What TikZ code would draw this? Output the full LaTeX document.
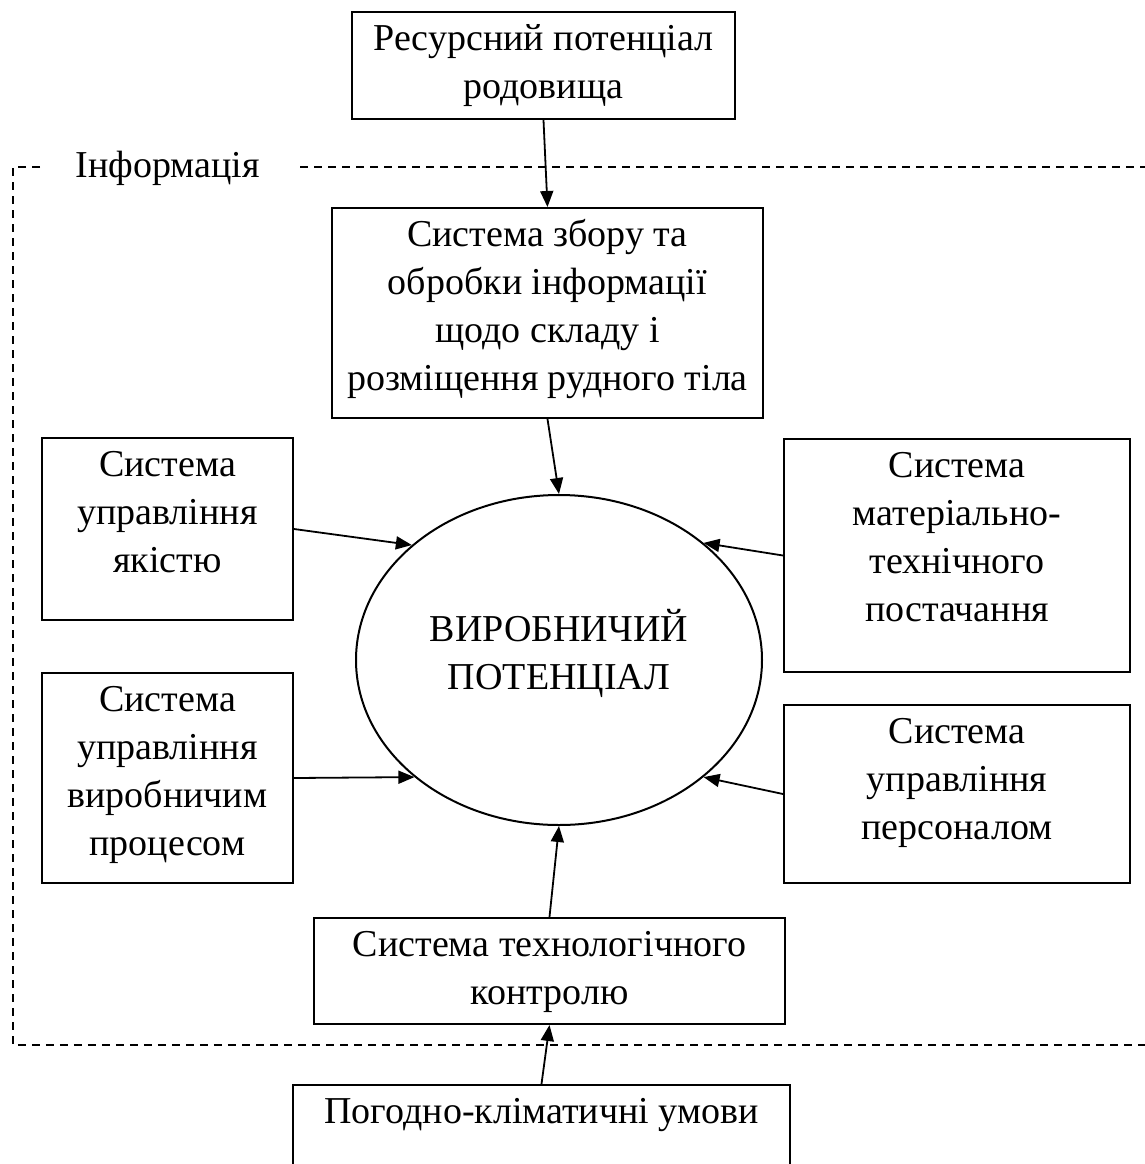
\documentclass[tikz,border=0pt]{standalone}
\usepackage{fontspec}
\setmainfont{Liberation Serif}
\usetikzlibrary{arrows.meta,shapes.geometric}
\newcommand\boxlines[2]{\foreach \tx [count=\i] in {#2} {\node[txt] (#1-\i) at ([yshift={-19.5pt-24pt*(\i-1)}]#1.north) {\tx};}}
\begin{document}
\begin{tikzpicture}[x=0.5pt,y=-0.5pt,
  box/.style={draw,line width=1pt,inner sep=0pt},
  txt/.style={anchor=base,inner sep=0pt,font=\fontsize{19pt}{24pt}\selectfont},
  arr/.style={line width=0.9pt,-{Triangle[length=8pt,width=6.5pt]}},
  frame/.style={line width=1pt,dash pattern=on 4pt off 3pt}]
\clip (0,0) rectangle (1145,1164);
\fill[white] (0,0) rectangle (1145,1164);
% dashed information frame
\draw[frame] (40,167) -- (13,167) -- (13,1045) -- (1160,1045);
\draw[frame] (300,167) -- (1160,167);
\node[txt] (infolabel) at (167.5,177) {Інформація};
% boxes
\node[box,minimum width=191.5pt,minimum height=53.5pt] (res) at (543.5,65.5) {};
\boxlines{res}{Ресурсний потенціал,родовища}
\node[box,minimum width=215.5pt,minimum height=105pt] (info) at (547.5,313) {};
\boxlines{info}{Система збору та,обробки інформації,щодо складу і,розміщення рудного тіла}
\node[box,minimum width=125.5pt,minimum height=91pt] (lq) at (167.5,529) {};
\boxlines{lq}{Система,управління,якістю}
\node[box,minimum width=125.5pt,minimum height=105pt] (lp) at (167.5,778) {};
\boxlines{lp}{Система,управління,виробничим,процесом}
\node[box,minimum width=173pt,minimum height=116.5pt] (rm) at (957,555.5) {};
\boxlines{rm}{Система,матеріально-,технічного,постачання}
\node[box,minimum width=173pt,minimum height=89pt] (rp) at (957,794) {};
\boxlines{rp}{Система,управління,персоналом}
\node[box,minimum width=235.5pt,minimum height=53pt] (tech) at (549.5,971) {};
\boxlines{tech}{Система технологічного,контролю}
\node[box,minimum width=248.5pt,minimum height=52.5pt] (pog) at (541.5,1137.5) {};
\boxlines{pog}{Погодно-кліматичні умови}
% ellipse
\node[draw,ellipse,line width=1pt,inner sep=0pt,minimum width=203pt,minimum height=165pt] (ell) at (559,660) {};
\node[txt] (ell-1) at (559,641) {ВИРОБНИЧИЙ};
\node[txt] (ell-2) at (559,689) {ПОТЕНЦІАЛ};
% arrows
\draw[arr] (res.south) -- (info.north);
\draw[arr] (info.south) -- (ell.north);
\draw[arr] (lq.east) -- (ell.142);
\draw[arr] (lp.east) -- (ell.219);
\draw[arr] (rm.west) -- (ell.39);
\draw[arr] (rp.west) -- (ell.-39);
\draw[arr] (tech.north) -- (ell.south);
\draw[arr] (pog.north) -- (tech.south);
\end{tikzpicture}
\end{document}
